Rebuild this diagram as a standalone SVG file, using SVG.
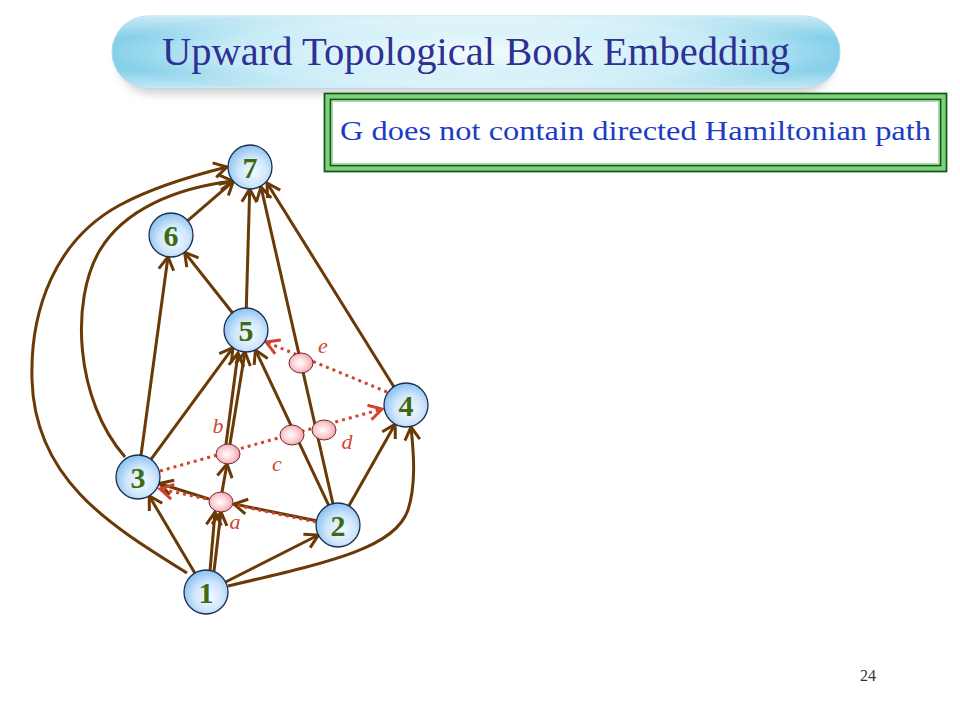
<svg xmlns="http://www.w3.org/2000/svg" width="960" height="720" viewBox="0 0 960 720">
<defs>
<style>
.e{fill:none;stroke:#6a3906;stroke-width:3;marker-end:url(#ab)}
.r{fill:none;stroke:#d2432c;stroke-width:3;stroke-dasharray:3 4;marker-end:url(#ar)}
.n{fill:url(#gn);stroke:#1c2f4f;stroke-width:1.3}
.p{fill:url(#gp);stroke:#6e2a2a;stroke-width:1}
.nl{font-family:"Liberation Serif","Times New Roman",serif;font-weight:bold;font-size:30px;fill:#3b6b14;text-anchor:middle}
.pl{font-family:"Liberation Serif","Times New Roman",serif;font-style:italic;font-size:22px;fill:#cc4a33;text-anchor:middle}
</style>
<marker id="ab" markerUnits="userSpaceOnUse" viewBox="0 0 20 20" refX="16" refY="10" markerWidth="20" markerHeight="20" orient="auto" overflow="visible">
<path d="M3,2.5 L16,10 L3,17.5" fill="none" stroke="#6a3906" stroke-width="3"/>
</marker>
<marker id="ar" markerUnits="userSpaceOnUse" viewBox="0 0 20 20" refX="16" refY="10" markerWidth="20" markerHeight="20" orient="auto" overflow="visible">
<path d="M3,2.5 L16,10 L3,17.5" fill="none" stroke="#d2432c" stroke-width="3"/>
</marker>
<radialGradient id="gn" cx="0.55" cy="0.58" r="0.6" fx="0.58" fy="0.62">
<stop offset="0" stop-color="#f4faff"/>
<stop offset="0.55" stop-color="#cfe6fb"/>
<stop offset="1" stop-color="#86bff0"/>
</radialGradient>
<radialGradient id="gp" cx="0.45" cy="0.5" r="0.6">
<stop offset="0" stop-color="#ffffff"/>
<stop offset="0.5" stop-color="#fbd3d6"/>
<stop offset="1" stop-color="#ee97a1"/>
</radialGradient>
<radialGradient id="gt" cx="0.5" cy="0.5" r="0.5" gradientTransform="translate(0.5 0.5) scale(1 1.3) translate(-0.5 -0.5)">
<stop offset="0" stop-color="#f2fbfe"/>
<stop offset="0.7" stop-color="#c6ebf7"/>
<stop offset="1" stop-color="#86d0e9"/>
</radialGradient>
<linearGradient id="gt2" x1="0" y1="0" x2="0" y2="1">
<stop offset="0" stop-color="#ffffff" stop-opacity="0.55"/>
<stop offset="0.3" stop-color="#ffffff" stop-opacity="0"/>
<stop offset="0.75" stop-color="#ffffff" stop-opacity="0"/>
<stop offset="1" stop-color="#ffffff" stop-opacity="0.5"/>
</linearGradient>
<filter id="sh" x="-10%" y="-50%" width="120%" height="200%">
<feGaussianBlur stdDeviation="5"/>
</filter>
</defs>
<rect width="960" height="720" fill="#ffffff"/>

<g id="title">
<rect x="118" y="26" width="716" height="68" rx="34" fill="#9a9a9a" opacity="0.45" filter="url(#sh)"/>
<rect x="112" y="16" width="728" height="72" rx="36" fill="url(#gt)" stroke="#a6dcee" stroke-width="1"/>
<rect x="112" y="16" width="728" height="72" rx="36" fill="url(#gt2)"/>
<text x="162" y="65" font-family="'Liberation Serif','Times New Roman',serif" font-size="40" fill="#2e3192" textLength="628" lengthAdjust="spacingAndGlyphs">Upward Topological Book Embedding</text>
</g>

<g id="note">
<rect x="324.5" y="93.5" width="622" height="78" fill="#7fd07f" stroke="#145a14" stroke-width="1.8"/>
<rect x="330.5" y="99.5" width="610" height="66" fill="#ffffff" stroke="#145a14" stroke-width="1.8"/>
<rect x="332.5" y="101.5" width="606" height="62" fill="none" stroke="#a6e0a6" stroke-width="1"/>
<text x="340" y="140" font-family="'Liberation Serif','Times New Roman',serif" font-size="27" fill="#1b3cc4" textLength="591" lengthAdjust="spacingAndGlyphs">G does not contain directed Hamiltonian path</text>
</g>

<g id="connectors">
<line class="e" x1="194.8" y1="573.1" x2="149.2" y2="495.9"/>
<line class="e" x1="210" y1="571" x2="215" y2="512"/>
<line class="e" x1="214" y1="571" x2="221" y2="512"/>
<line class="e" x1="222" y1="492" x2="227" y2="464"/>
<line class="e" x1="226" y1="444" x2="238" y2="353"/>
<line class="e" x1="230" y1="444" x2="245" y2="352"/>
<line class="e" x1="151" y1="459.3" x2="233" y2="347.7"/>
<line class="e" x1="141" y1="455.2" x2="168" y2="256.8"/>
<path class="e" d="M125,457 C75,400 70,300 100,250 C124,210 175,188 233,181"/>
<path class="e" d="M187,573 C110,525 35,480 32,380 C30,310 55,240 120,205 C155,186 195,175 227,167"/>
<line class="e" x1="232.4" y1="312.7" x2="184.6" y2="252.3"/>
<line class="e" x1="246.3" y1="308" x2="249.7" y2="189"/>
<line class="e" x1="187.7" y1="220.6" x2="233.3" y2="181.4"/>
<line class="e" x1="328.6" y1="505.1" x2="255.4" y2="349.9"/>
<line class="e" x1="333" y1="504" x2="261" y2="187"/>
<line class="e" x1="394" y1="387" x2="267" y2="183"/>
<line class="e" x1="348.8" y1="505.9" x2="395.2" y2="424.1"/>
<line class="e" x1="225.6" y1="582" x2="318.4" y2="535"/>
<path class="e" d="M228,586 C330,562 395,548 408,510 C416,485 414,455 411,427"/>
<line class="e" x1="316.4" y1="520.8" x2="234" y2="504"/>
<line class="e" x1="209" y1="499" x2="159.5" y2="483.5"/>
<path class="r" d="M316,522 L221,502 L160,489"/>
<line class="r" x1="160" y1="471" x2="382" y2="409"/>
<line class="r" x1="387" y1="392" x2="266" y2="342"/>
</g>

<g id="node-a"><ellipse class="p" cx="221" cy="502" rx="12" ry="10"/><text class="pl" x="235" y="529">a</text></g>
<g id="node-b"><ellipse class="p" cx="228" cy="454" rx="12" ry="10"/><text class="pl" x="218" y="433">b</text></g>
<g id="node-c"><ellipse class="p" cx="292" cy="435" rx="12" ry="10"/><text class="pl" x="277" y="471">c</text></g>
<g id="node-d"><ellipse class="p" cx="324" cy="430" rx="12" ry="10"/><text class="pl" x="347" y="449">d</text></g>
<g id="node-e"><ellipse class="p" cx="301" cy="363" rx="12" ry="10"/><text class="pl" x="323" y="353">e</text></g>

<g id="node-1"><circle class="n" cx="206" cy="592" r="22"/><text class="nl" x="206" y="602.5">1</text></g>
<g id="node-2"><circle class="n" cx="338" cy="525" r="22"/><text class="nl" x="338" y="535.5">2</text></g>
<g id="node-3"><circle class="n" cx="138" cy="477" r="22"/><text class="nl" x="138" y="487.5">3</text></g>
<g id="node-4"><circle class="n" cx="406" cy="405" r="22"/><text class="nl" x="406" y="415.5">4</text></g>
<g id="node-5"><circle class="n" cx="246" cy="330" r="22"/><text class="nl" x="246" y="340.5">5</text></g>
<g id="node-6"><circle class="n" cx="171" cy="235" r="22"/><text class="nl" x="171" y="245.5">6</text></g>
<g id="node-7"><circle class="n" cx="250" cy="167" r="22"/><text class="nl" x="250" y="177.5">7</text></g>

<text x="868" y="681" font-family="'Liberation Serif','Times New Roman',serif" font-size="16" fill="#333333" text-anchor="middle">24</text>
</svg>
